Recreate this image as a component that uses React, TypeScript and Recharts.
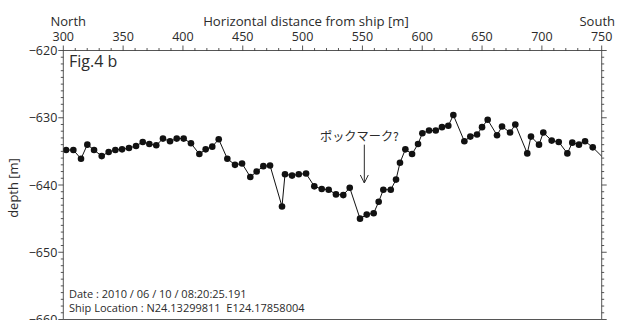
import React from 'react';
import { LineChart, Line, XAxis, YAxis, ReferenceLine, ReferenceDot } from 'recharts';

// horizontal distance from ship [m]
const distance = [
  302.3, 308.4, 314.8, 320.1, 325.7, 332.1, 337.9, 343.5, 349.1, 354.9,
  360.8, 366.4, 371.9, 377.7, 383.3, 389.2, 394.8, 400.6, 406.7, 413.7,
  419.0, 424.5, 429.9, 437.1, 443.5, 449.4, 456.3, 461.6, 467.2, 472.8,
  482.8, 485.3, 491.2, 496.8, 502.9, 509.8, 516.0, 521.8, 527.9, 534.0,
  539.4, 548.0, 553.6, 559.4, 563.6, 567.5, 573.7, 578.1, 581.4, 585.9,
  591.5, 596.5, 600.1, 605.7, 611.3, 616.5, 621.8, 626.0, 635.2, 640.2,
  645.8, 650.0, 654.7, 662.5, 666.7, 673.4, 677.8, 687.8, 690.9, 697.6,
  701.2, 708.2, 714.1, 721.3, 725.4, 731.0, 736.1, 742.5, 755.5,
];

// depth [m]
const depth = [
  -634.8, -634.8, -636.1, -634.0, -634.8, -635.7, -635.1, -634.8, -634.7, -634.5,
  -634.2, -633.6, -633.9, -634.1, -633.1, -633.5, -633.1, -633.1, -633.8, -635.4,
  -634.7, -634.3, -633.2, -636.1, -637.0, -636.8, -638.8, -638.0, -637.2, -637.1,
  -643.2, -638.4, -638.6, -638.4, -638.3, -640.2, -640.6, -640.7, -641.4, -641.5,
  -640.4, -645.0, -644.4, -644.2, -642.5, -640.7, -640.7, -639.2, -636.7, -634.7,
  -635.4, -633.9, -632.3, -631.9, -631.9, -631.4, -631.2, -629.6, -633.5, -632.8,
  -632.5, -631.4, -630.3, -632.6, -631.3, -632.2, -631.0, -635.3, -632.8, -634.0,
  -632.2, -633.4, -633.6, -635.3, -633.7, -634.0, -633.5, -634.4, -636.7,
];

const xMajor = [300, 350, 400, 450, 500, 550, 600, 650, 700, 750];
const yMajor = [-620, -630, -640, -650, -660];

// minor ticks: every 10 m across, every 1 m in depth
const xTicks: number[] = [];
for (let v = 300; v <= 750; v += 10) xTicks.push(v);
const yTicks: number[] = [];
for (let v = -660; v <= -620; v += 1) yTicks.push(v);

const data = distance.map((d, i) => ({ distance: d, depth: depth[i] }));

const FONT = '"Open Sans", "Noto Sans", sans-serif';
const INK = '#2b2b2b';

const fmt = (v: number) => (v < 0 ? '\u2212' + Math.abs(v) : String(v));

const TopTick = (props: any) => {
  const { x, y, payload } = props;
  const major = xMajor.includes(payload.value);
  return (
    <g>
      <line x1={x} x2={x} y1={y} y2={y - (major ? 5 : 2.5)} stroke={INK} strokeWidth={0.8} />
      {major && (
        <text x={x} y={y - 10} textAnchor="middle" fontSize={12.5} fontFamily={FONT} fill={INK}>
          {payload.value}
        </text>
      )}
    </g>
  );
};

const BottomTick = (props: any) => {
  const { x, y, payload } = props;
  const major = xMajor.includes(payload.value);
  return <line x1={x} x2={x} y1={y} y2={y + (major ? 5 : 2.5)} stroke={INK} strokeWidth={0.8} />;
};

const LeftTick = (props: any) => {
  const { x, y, payload } = props;
  const major = yMajor.includes(payload.value);
  return (
    <g>
      <line x1={x} x2={x - (major ? 5 : 2.5)} y1={y} y2={y} stroke={INK} strokeWidth={0.8} />
      {major && (
        <text x={x - 6} y={y} dy="0.36em" textAnchor="end" fontSize={12.5} fontFamily={FONT} fill={INK}>
          {fmt(payload.value)}
        </text>
      )}
    </g>
  );
};

const RightTick = (props: any) => {
  const { x, y, payload } = props;
  const major = yMajor.includes(payload.value);
  return <line x1={x} x2={x + (major ? 5 : 2.5)} y1={y} y2={y} stroke={INK} strokeWidth={0.8} />;
};

const ArrowHead = (props: any) => {
  const { cx, cy } = props;
  return (
    <path d={`M${cx - 4},${cy - 8} L${cx},${cy} L${cx + 4},${cy - 8}`} fill="none" stroke={INK} strokeWidth={1} />
  );
};

export default function App() {
  return (
    <div style={{ position: 'relative', width: 617, height: 320, overflow: 'hidden', background: '#fff' }}>
      <style>{'body{margin:0;overflow:hidden}'}</style>
      <LineChart
        width={617}
        height={324.5}
        data={data}
        margin={{ top: 30.5, right: 5.3, bottom: 1, left: 13.3 }}
      >
        <XAxis
          xAxisId={0}
          dataKey="distance"
          type="number"
          orientation="top"
          domain={[300, 750]}
          allowDataOverflow
          ticks={xTicks}
          interval={0}
          tick={<TopTick />}
          tickLine={false}
          tickSize={0}
          tickMargin={0}
          height={20}
          axisLine={{ stroke: INK, strokeWidth: 0.8 }}
        />
        <XAxis
          xAxisId="b"
          type="number"
          orientation="bottom"
          domain={[300, 750]}
          allowDataOverflow
          ticks={xTicks}
          interval={0}
          tick={<BottomTick />}
          tickLine={false}
          tickSize={0}
          tickMargin={0}
          height={4}
          axisLine={{ stroke: INK, strokeWidth: 0.8 }}
        />
        <YAxis
          yAxisId={0}
          type="number"
          domain={[-660, -620]}
          allowDataOverflow
          ticks={yTicks}
          interval={0}
          tick={<LeftTick />}
          tickLine={false}
          tickSize={0}
          tickMargin={0}
          width={50}
          axisLine={{ stroke: INK, strokeWidth: 0.8 }}
        />
        <YAxis
          yAxisId="r"
          orientation="right"
          type="number"
          domain={[-660, -620]}
          allowDataOverflow
          ticks={yTicks}
          interval={0}
          tick={<RightTick />}
          tickLine={false}
          tickSize={0}
          tickMargin={0}
          width={10}
          axisLine={{ stroke: INK, strokeWidth: 0.8 }}
        />
        <Line
          dataKey="depth"
          stroke="#111"
          strokeWidth={1}
          dot={{ r: 3.3, fill: '#111', stroke: 'none' }}
          isAnimationActive={false}
        />
        <ReferenceLine
          segment={[{ x: 551.6, y: -634.0 }, { x: 551.6, y: -639.7 }]}
          stroke={INK}
          strokeWidth={1}
        />
        <ReferenceDot x={551.6} y={-639.7} shape={<ArrowHead />} />
      </LineChart>
      <svg
        width={617}
        height={320}
        style={{ position: 'absolute', left: 0, top: 0, pointerEvents: 'none' }}
        fontFamily={FONT}
        fill={INK}
      >
        <text x={50.5} y={26} fontSize={13}>North</text>
        <text x={306} y={26} fontSize={13.2} textAnchor="middle">Horizontal distance from ship [m]</text>
        <text x={615} y={26} fontSize={13} textAnchor="end">South</text>
        <text x={13} y={188} fontSize={13} textAnchor="middle" dy="0.35em" transform="rotate(-90 13 188)">
          depth [m]
        </text>
        <text x={69} y={67.3} fontSize={16}>Fig.4 b</text>
        <text x={320} y={140.7} fontSize={12.2} fontFamily='"Noto Sans CJK JP", sans-serif'>ポックマーク?</text>
        <text x={69} y={298.3} fontSize={11}>Date : 2010 / 06 / 10 / 08:20:25.191</text>
        <text x={69} y={312.3} fontSize={11}>Ship Location : N24.13299811&#160;&#160;E124.17858004</text>
      </svg>
    </div>
  );
}
